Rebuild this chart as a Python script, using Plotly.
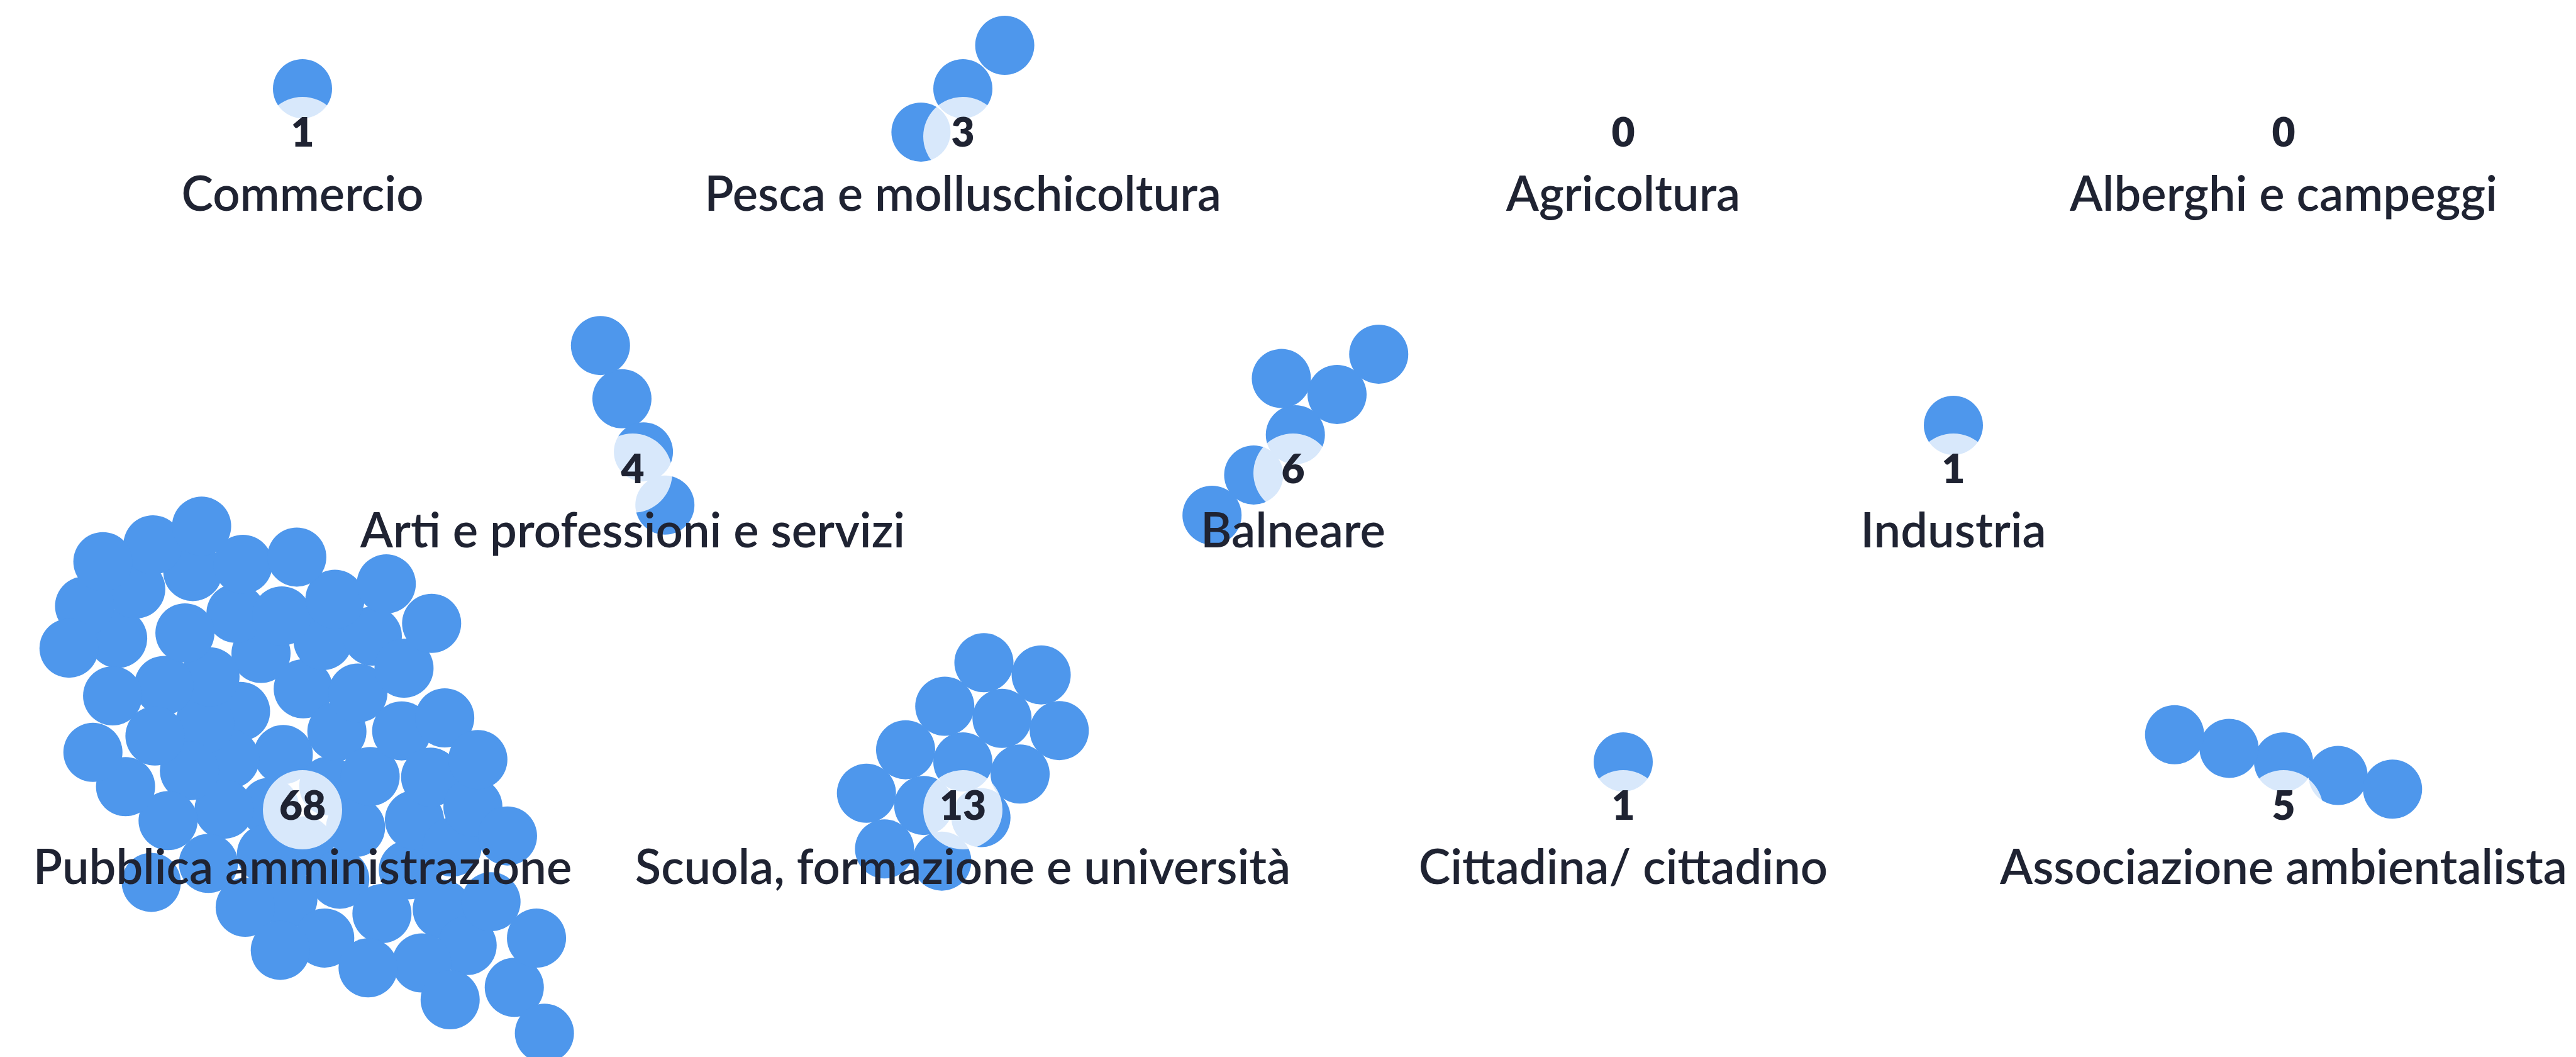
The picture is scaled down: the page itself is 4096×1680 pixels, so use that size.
import math
import plotly.graph_objects as go

# ---------------- data ----------------
categories = [
    "Commercio", "Pesca e molluschicoltura", "Agricoltura", "Alberghi e campeggi",
    "Arti e professioni e servizi", "Balneare", "Industria",
    "Pubblica amministrazione", "Scuola, formazione e università",
    "Cittadina/ cittadino", "Associazione ambientalista",
]
counts = [1, 3, 0, 0, 4, 6, 1, 68, 13, 1, 5]

# ---------------- layout / style config ----------------
W, H = 4096, 1680
ROW_SIZES = [4, 3, 4]
COL_X0 = 473
COL_DX = 1050
ROW_Y0 = 308
ROW_DY = 535
NUM_ABOVE_LABEL = 99
CLUSTER_ABOVE_NUM = 76
DOT_D = 94
HALO_D = 126
BLUE = "#4E97EC"
TEXT = "#1F2332"

# cluster shape: flow angle (deg), length forward, length backward, half width,
# taper of the forward tail, spacing factor, jitter
SHAPE = {
    "Pesca e molluschicoltura": (-46, 4.0, 4.0, 1.0, 0.0, 1.02, 0.0),
    "Arti e professioni e servizi": (68, 4.0, 4.0, 1.0, 0.0, 0.97, 0.0),
    "Balneare": (-44, 3.0, 3.0, 1.0, 0.0, 0.98, 0.0),
    "Associazione ambientalista": (14, 4.0, 4.0, 1.0, 0.0, 0.95, 0.0),
    "Scuola, formazione e università": (-48, 1.5, 1.5, 1.0, 0.0, 0.99, 0.0),
    "Pubblica amministrazione": (47, 7.6, 5.2, 3.6, 0.62, 0.92, 0.16),
}


def slot_xy(i):
    r = 0
    k = i
    while k >= ROW_SIZES[r]:
        k -= ROW_SIZES[r]
        r += 1
    x = COL_X0 + k * COL_DX + (COL_DX / 2 if ROW_SIZES[r] == 3 else 0)
    y = ROW_Y0 + r * ROW_DY
    return x, y


def hash01(i, j, k):
    v = math.sin(i * 127.1 + j * 311.7 + k * 74.7) * 43758.5453
    return v - math.floor(v)


def cluster(n, cx, cy, shape):
    if n == 0:
        return [], []
    if n == 1 or shape is None:
        return [cx], [cy]
    ang, a_fwd, a_back, b, taper, sf, jit = shape
    s = DOT_D * sf
    t = math.radians(ang)
    u = (math.cos(t), math.sin(t))
    v = (-math.sin(t), math.cos(t))
    pts = []
    for i in range(-20, 21):
        for j in range(-20, 21):
            al = i + 0.5 * j
            pe = j * math.sqrt(3) / 2
            if al >= 0:
                a = a_fwd
                bb = b * max(0.22, 1 - taper * al / a_fwd)
            else:
                a = a_back
                bb = b
            m = (al / a) ** 2 + (pe / bb) ** 2
            jx = (hash01(i, j, 1) - 0.5) * 2 * jit
            jy = (hash01(i, j, 2) - 0.5) * 2 * jit
            pts.append((round(m, 6), -al, pe, al + jx, pe + jy))
    pts.sort()
    sel = pts[:n]
    mx = sum(p[3] for p in sel) / n
    my = sum(p[4] for p in sel) / n
    xs, ys = [], []
    for p in sel:
        al = (p[3] - mx) * s
        pe = (p[4] - my) * s
        xs.append(cx + al * u[0] + pe * v[0])
        ys.append(cy + al * u[1] + pe * v[1])
    return xs, ys


dot_x, dot_y = [], []
num_x, num_y, lab_x, lab_y = [], [], [], []
for i, (cat, n) in enumerate(zip(categories, counts)):
    lx, ly = slot_xy(i)
    ny = ly - NUM_ABOVE_LABEL
    cy = ny - CLUSTER_ABOVE_NUM
    xs, ys = cluster(n, lx, cy, SHAPE.get(cat))
    dot_x += xs
    dot_y += ys
    num_x.append(lx); num_y.append(ny)
    lab_x.append(lx); lab_y.append(ly)

fig = go.Figure()
fig.add_trace(go.Scatter(
    x=dot_x, y=dot_y, mode="markers",
    marker=dict(size=DOT_D, color=BLUE, line=dict(width=0)),
    hoverinfo="skip", showlegend=False,
))
fig.add_trace(go.Scatter(
    x=num_x, y=num_y, mode="markers",
    marker=dict(size=HALO_D, color="white", opacity=0.78, line=dict(width=0)),
    hoverinfo="skip", showlegend=False,
))
fig.add_trace(go.Scatter(
    x=num_x, y=num_y, mode="text", text=[str(c) for c in counts],
    textposition="middle center",
    textfont=dict(family="Lato", size=64, color=TEXT, weight=800),
    hoverinfo="skip", showlegend=False,
))
fig.add_trace(go.Scatter(
    x=lab_x, y=lab_y, mode="text", text=categories,
    textposition="middle center",
    textfont=dict(family="Lato", size=76, color=TEXT, weight=600),
    hoverinfo="skip", showlegend=False,
))
fig.update_layout(
    width=W, height=H,
    margin=dict(l=0, r=0, t=0, b=0),
    paper_bgcolor="white", plot_bgcolor="white",
    xaxis=dict(range=[0, W], visible=False, fixedrange=True),
    yaxis=dict(range=[H, 0], visible=False, fixedrange=True),
)
fig.write_html("out.html")
